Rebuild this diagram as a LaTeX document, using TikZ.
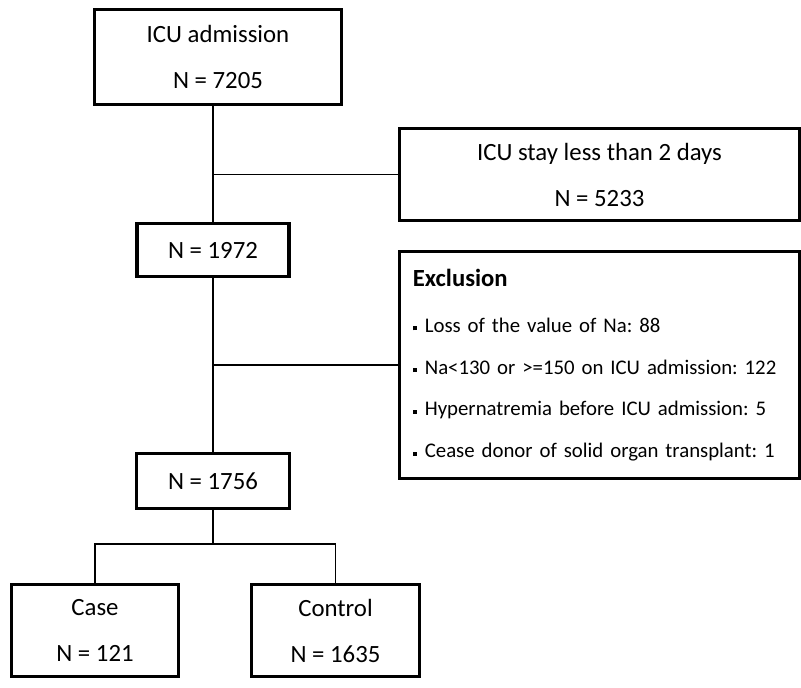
\documentclass[tikz,border=0pt]{standalone}
\usepackage{fontspec}
\setmainfont{Carlito}
\frenchspacing

\tikzset{
  flowbox/.style={draw, fill=white, line width=2.5pt, inner sep=0pt, align=center,
    font=\fontsize{18.6}{34.5}\selectfont},
  linkline/.style={line width=1.2pt},
}
\newcommand{\exbullet}{\makebox[9pt][l]{\rule[1.6pt]{3pt}{3pt}}}

\begin{document}
\begin{tikzpicture}[x=0.75pt, y=-0.75pt]

        \useasboundingbox (0,0) rectangle (801,687);

        % Hauptkette
        \node[flowbox, minimum width=185.25pt, minimum height=71.25pt] (adm) at (218,57)
            {ICU admission\\N = 7205};
        \node[flowbox, minimum width=114pt, minimum height=39.75pt] (n1972) at (213,250)
            {N = 1972};
        \node[flowbox, minimum width=114.75pt, minimum height=41.25pt] (n1756) at (213,481)
            {N = 1756};

        % Ausschluesse rechts
        \node[flowbox, minimum width=300pt, minimum height=69pt] (stay) at (599.5,174.5)
            {ICU stay less than 2 days\\N = 5233};
        \node[flowbox, align=left, inner xsep=10pt, text width=280pt, minimum height=170.25pt,
            font=\fontsize{15.6}{31.3}\selectfont] (excl) at (599.5,365)
            {{\fontsize{18.5}{21}\selectfont\bfseries Exclusion}\\[3.5pt]
             \exbullet Loss of the value of Na: 88\\
             \exbullet Na<130 or >=150 on ICU admission: 122\\
             \exbullet Hypernatremia before ICU admission: 5\\
             \exbullet Cease donor of solid organ transplant: 1};

        % Gruppen unten
        \node[flowbox, minimum width=125.25pt, minimum height=69pt] (case) at (95,630.5)
            {Case\\N = 121};
        \node[flowbox, minimum width=126pt, minimum height=69pt] (ctrl) at (335.5,630.5)
            {Control\\N = 1635};

        % Verbindungen
        \draw[linkline] (adm.south -| n1972.north) -- (n1972.north);
        \draw[linkline] (stay.west) -- (stay.west -| n1972.north);
        \draw[linkline] (excl.west) -- (excl.west -| n1972.north);
        \draw[linkline] (n1972.south) -- (n1756.north);
        \coordinate (split) at (213,544);
        \draw[linkline] (n1756.south) -- (split);
        \draw[linkline] (case.north) |- (split) -| (ctrl.north);

\end{tikzpicture}
\end{document}
